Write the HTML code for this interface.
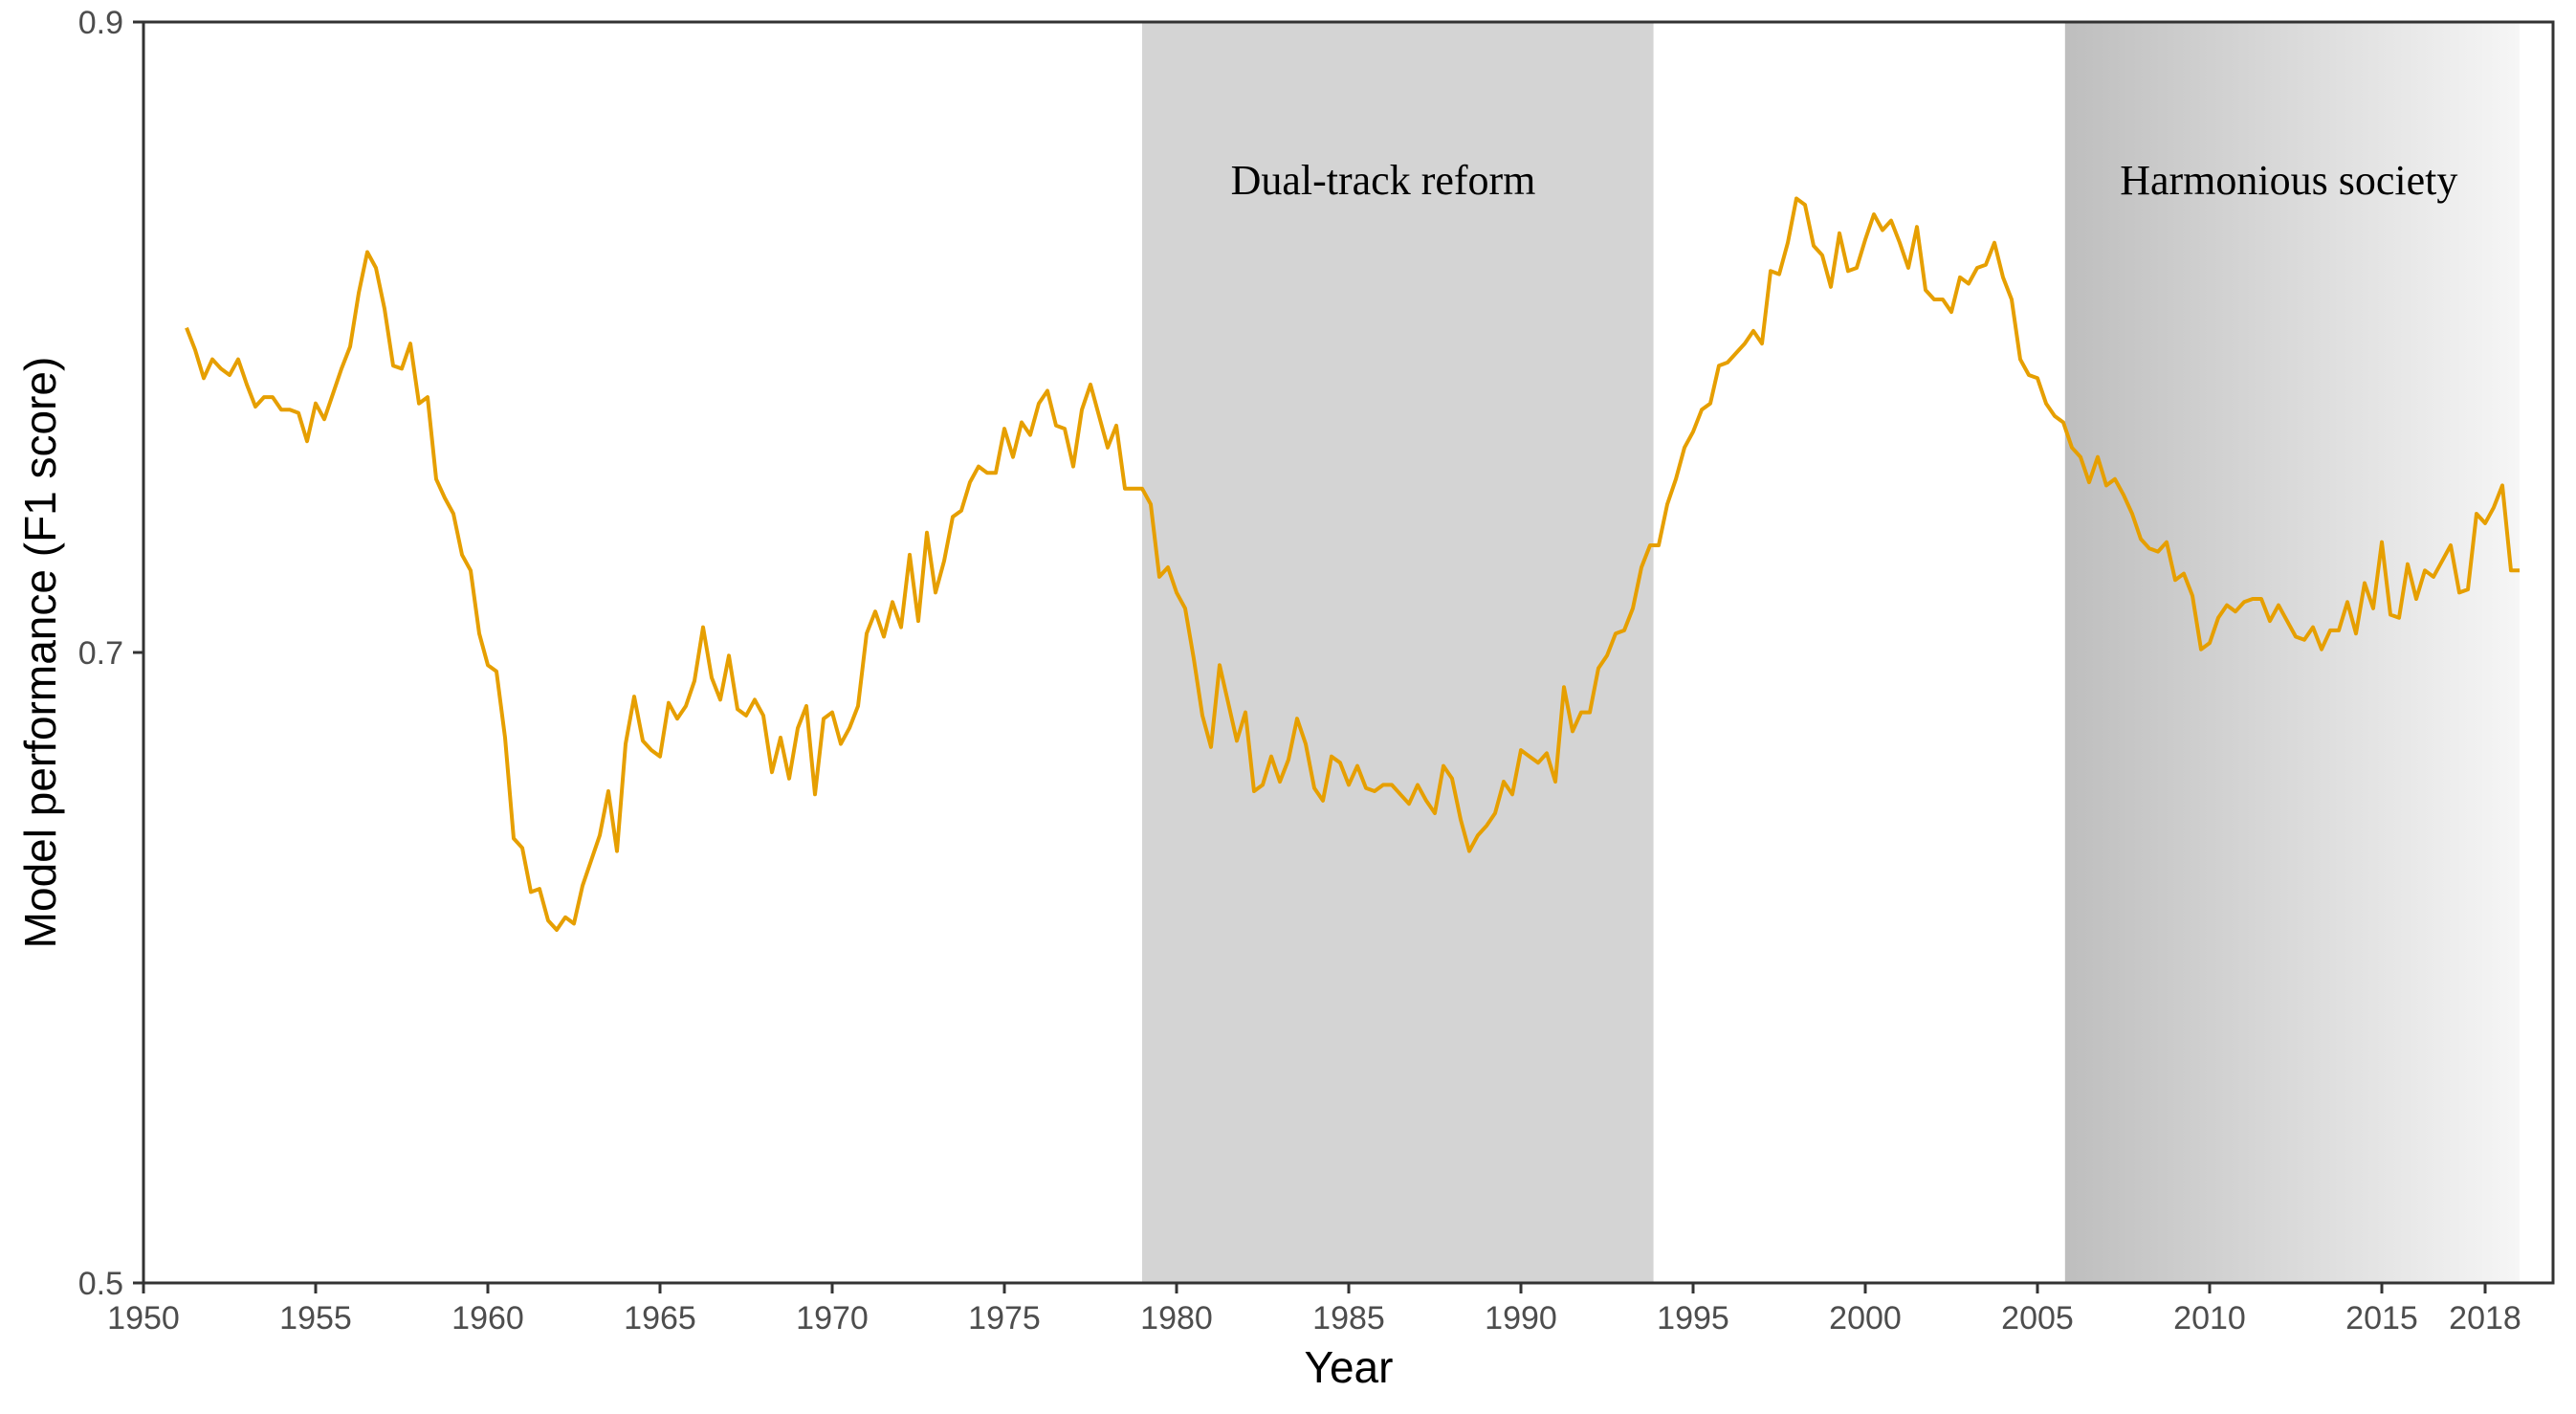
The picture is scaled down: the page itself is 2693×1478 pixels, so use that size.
<!DOCTYPE html>
<html><head><meta charset="utf-8"><style>
html,body{margin:0;padding:0;background:#fff;}
svg{display:block;}
</style></head><body>
<svg id="chart" width="2693" height="1478" xmlns="http://www.w3.org/2000/svg">
<defs>
<linearGradient id="hgrad" x1="0" x2="1" y1="0" y2="0">
<stop offset="0" stop-color="#bebebe"/><stop offset="1" stop-color="#f6f6f6"/>
</linearGradient>
</defs>
<g id="bands"></g>
<g id="series"></g>
<rect x="150" y="23" width="2519" height="1318" fill="none" stroke="#333" stroke-width="3"/>
<g id="axes"></g>
<text x="1410" y="1445" font-family="Liberation Sans, sans-serif" font-size="46" text-anchor="middle" fill="#000">Year</text>
<text transform="translate(58,682) rotate(-90)" font-family="Liberation Sans, sans-serif" font-size="46" text-anchor="middle" fill="#000">Model performance (F1 score)</text>
</svg>
<script>
const xTicks = [1950,1955,1960,1965,1970,1975,1980,1985,1990,1995,2000,2005,2010,2015,2018];
const yTicks = [0.5,0.7,0.9];
const periodNames = ["Dual-track reform","Harmonious society"];
const periodStart = [1979.0,2005.8];
const periodEnd = [1993.85,2019.0];
const periodLabelYear = [1986.0,2012.3];
const startYear = 1951.25;
const stepYear = 0.25;
const f1 = [0.803,0.796,0.787,0.793,0.790,0.788,0.793,0.785,0.778,0.781,0.781,0.777,0.777,0.776,0.767,0.779,0.774,0.782,0.790,0.797,0.814,0.827,0.822,0.809,0.791,0.790,0.798,0.779,0.781,0.755,0.749,0.744,0.731,0.726,0.706,0.696,0.694,0.673,0.641,0.638,0.624,0.625,0.615,0.612,0.616,0.614,0.626,0.634,0.642,0.656,0.637,0.671,0.686,0.672,0.669,0.667,0.684,0.679,0.683,0.691,0.708,0.692,0.685,0.699,0.682,0.680,0.685,0.680,0.662,0.673,0.660,0.676,0.683,0.655,0.679,0.681,0.671,0.676,0.683,0.706,0.713,0.705,0.716,0.708,0.731,0.710,0.738,0.719,0.729,0.743,0.745,0.754,0.759,0.757,0.757,0.771,0.762,0.773,0.769,0.779,0.783,0.772,0.771,0.759,0.777,0.785,0.775,0.765,0.772,0.752,0.752,0.752,0.747,0.724,0.727,0.719,0.714,0.698,0.680,0.670,0.696,0.684,0.672,0.681,0.656,0.658,0.667,0.659,0.666,0.679,0.671,0.657,0.653,0.667,0.665,0.658,0.664,0.657,0.656,0.658,0.658,0.655,0.652,0.658,0.653,0.649,0.664,0.660,0.647,0.637,0.642,0.645,0.649,0.659,0.655,0.669,0.667,0.665,0.668,0.659,0.689,0.675,0.681,0.681,0.695,0.699,0.706,0.707,0.714,0.727,0.734,0.734,0.747,0.755,0.765,0.770,0.777,0.779,0.791,0.792,0.795,0.798,0.802,0.798,0.821,0.820,0.830,0.844,0.842,0.829,0.826,0.816,0.833,0.821,0.822,0.831,0.839,0.834,0.837,0.830,0.822,0.835,0.815,0.812,0.812,0.808,0.819,0.817,0.822,0.823,0.830,0.819,0.812,0.793,0.788,0.787,0.779,0.775,0.773,0.765,0.762,0.754,0.762,0.753,0.755,0.750,0.744,0.736,0.733,0.732,0.735,0.723,0.725,0.718,0.701,0.703,0.711,0.715,0.713,0.716,0.717,0.717,0.710,0.715,0.710,0.705,0.704,0.708,0.701,0.707,0.707,0.716,0.706,0.722,0.714,0.735,0.712,0.711,0.728,0.717,0.726,0.724,0.729,0.734,0.719,0.720,0.744,0.741,0.746,0.753,0.726,0.726];

const NS="http://www.w3.org/2000/svg";
const L=150,R=2669,T=23,B=1341;
function xScale(yr){return L+(yr-1950)*36.0;}
function yScale(v){return B-(v-0.5)/(0.9-0.5)*(B-T);}
function mk(tag,parent){const e=document.createElementNS(NS,tag);parent.appendChild(e);return e;}

const bands=document.getElementById('bands');
for(let i=0;i<periodNames.length;i++){
  const r=mk('rect',bands);
  
  
  r.setAttribute('x',xScale(periodStart[i]));r.setAttribute('y',T);
  r.setAttribute('width',xScale(periodEnd[i])-xScale(periodStart[i]));r.setAttribute('height',B-T);
  r.setAttribute('fill',i===0?'#d4d4d4':'url(#hgrad)');
  const t=mk('text',bands);
  
  
  t.setAttribute('x',xScale(periodLabelYear[i]));
  t.setAttribute('y',203);
  t.setAttribute('font-family','Liberation Serif, serif');
  t.setAttribute('font-size','44');
  t.setAttribute('text-anchor','middle');
  t.textContent=periodNames[i];
}

const series=document.getElementById('series');
let d='';
for(let i=0;i<f1.length;i++){
  const yr=startYear+i*stepYear;
  d+=(i?'L':'M')+xScale(yr).toFixed(1)+','+yScale(f1[i]).toFixed(1);
}
const p=mk('path',series);


p.setAttribute('d',d);p.setAttribute('fill','none');
p.setAttribute('stroke','#E69F00');p.setAttribute('stroke-width','4');
p.setAttribute('stroke-linejoin','round');

const axes=document.getElementById('axes');
for(const t of xTicks){
  const ln=mk('line',axes);
  
  
  ln.setAttribute('x1',xScale(t));ln.setAttribute('x2',xScale(t));
  ln.setAttribute('y1',B);ln.setAttribute('y2',B+11);
  ln.setAttribute('stroke','#333');ln.setAttribute('stroke-width','3');
  const tx=mk('text',axes);
  
  
  tx.setAttribute('x',xScale(t));tx.setAttribute('y',1389);
  tx.setAttribute('font-family','Liberation Sans, sans-serif');
  tx.setAttribute('font-size','34');tx.setAttribute('fill','#4d4d4d');
  tx.setAttribute('text-anchor','middle');
  tx.textContent=t;
}
for(const t of yTicks){
  const ln=mk('line',axes);
  
  
  ln.setAttribute('x1',L-11);ln.setAttribute('x2',L);
  ln.setAttribute('y1',yScale(t));ln.setAttribute('y2',yScale(t));
  ln.setAttribute('stroke','#333');ln.setAttribute('stroke-width','3');
  const tx=mk('text',axes);
  
  
  tx.setAttribute('x',129);tx.setAttribute('y',yScale(t)+12);
  tx.setAttribute('font-family','Liberation Sans, sans-serif');
  tx.setAttribute('font-size','34');tx.setAttribute('fill','#4d4d4d');
  tx.setAttribute('text-anchor','end');
  tx.textContent=t.toFixed(1);
}
</script>
</body></html>
